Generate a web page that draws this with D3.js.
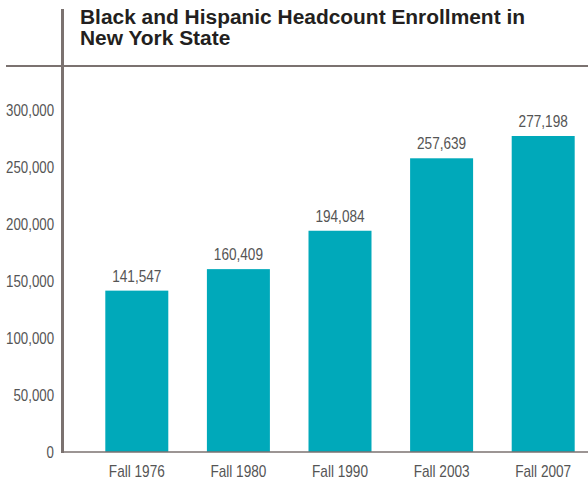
<!DOCTYPE html>
<html>
<head>
<meta charset="utf-8">
<script src="https://cdn.jsdelivr.net/npm/d3@7"></script>
<style>
  body { margin: 0; background: #fff; }
  svg { display: block; }
</style>
</head>
<body>
<div id="chart"></div>
<script>
// Chart data
const terms = ["Fall 1976", "Fall 1980", "Fall 1990", "Fall 2003", "Fall 2007"];
const enrollment = [141547, 160409, 194084, 257639, 277198];
const yTicks = [0, 50000, 100000, 150000, 200000, 250000, 300000];
const titleLines = ["Black and Hispanic Headcount Enrollment in", "New York State"];

const width = 588;
const height = 481;
const numFont = "'Liberation Sans', Arial, sans-serif";
const lineColor = "#7b7270";
const barColor = "#00a9ba";
const textColor = "#555555";

const svg = d3.select("#chart")
  .append("svg")
  .attr("width", width)
  .attr("height", height);

// no narrow font installed, so squeeze the glyphs instead
function narrow(sel, k) {
  sel.each(function () {
    const len = this.getComputedTextLength();
    d3.select(this).attr("textLength", len * k).attr("lengthAdjust", "spacingAndGlyphs");
  });
}

// Scales
const x = d3.scaleBand()
  .domain(terms)
  .range([86, 594])
  .paddingInner(0.38)
  .paddingOuter(0.19);

const y = d3.scaleLinear()
  .domain([0, 300000])
  .range([452, 110]);

const fmt = d3.format(",");

// Title
const title = svg.append("g")
  .selectAll("text")
  .data(titleLines)
  .join("text")
  .attr("x", 80)
  .attr("y", (d, i) => 24 + i * 21)
  .attr("fill", "#231f20")
  .style("font-family", "'Liberation Sans', Arial, sans-serif")
  .style("font-weight", "bold")
  .style("font-size", "19.5px")
  .text(d => d);
const titleK = 445 / title.nodes()[0].getComputedTextLength();
narrow(title, titleK);

// Top rule
svg.append("line")
  .attr("x1", 6).attr("x2", width)
  .attr("y1", 66).attr("y2", 66)
  .attr("stroke", lineColor)
  .attr("stroke-width", 2);

// Bars
svg.append("g")
  .selectAll("rect")
  .data(enrollment)
  .join("rect")
  .attr("x", (d, i) => x(terms[i]))
  .attr("y", d => y(d))
  .attr("width", x.bandwidth())
  .attr("height", d => y(0) - y(d))
  .attr("fill", barColor);

// Value labels
svg.append("g")
  .selectAll("text")
  .data(enrollment)
  .join("text")
  .attr("x", (d, i) => x(terms[i]) + x.bandwidth() / 2)
  .attr("y", d => y(d) - 9)
  .attr("text-anchor", "middle")
  .attr("fill", textColor)
  .style("font-family", numFont)
  .style("font-size", "17px")
  .text(d => fmt(d))
  .call(narrow, 0.8);

// Y axis
const yAxis = svg.append("g")
  .attr("transform", "translate(62,0)")
  .call(d3.axisLeft(y).tickValues(yTicks).tickFormat(fmt).tickSize(0).tickPadding(8));
yAxis.select(".domain").remove();
yAxis.selectAll("text")
  .attr("fill", textColor)
  .attr("dy", "0.35em")
  .style("font-family", numFont)
  .style("font-size", "17px")
  .call(narrow, 0.78);

// X axis
const xAxis = svg.append("g")
  .attr("transform", `translate(0,${y(0)})`)
  .call(d3.axisBottom(x).tickSize(0).tickPadding(13));
xAxis.select(".domain").remove();
xAxis.selectAll("text")
  .attr("fill", textColor)
  .style("font-family", numFont)
  .style("font-size", "17px")
  .call(narrow, 0.8);

// Baseline and vertical rule
svg.append("line")
  .attr("x1", 62).attr("x2", width)
  .attr("y1", y(0)).attr("y2", y(0))
  .attr("stroke", lineColor)
  .attr("stroke-width", 1.5);

svg.append("line")
  .attr("x1", 62.5).attr("x2", 62.5)
  .attr("y1", 9).attr("y2", y(0) + 1)
  .attr("stroke", lineColor)
  .attr("stroke-width", 3);
</script>
</body>
</html>
